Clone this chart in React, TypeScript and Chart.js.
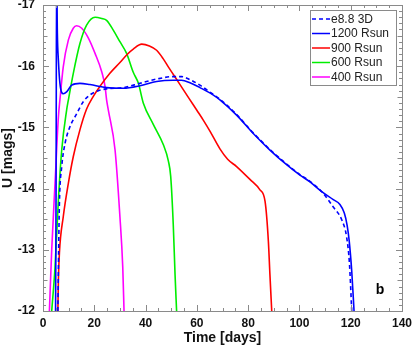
import React, { useEffect, useRef } from "react";
import { Chart, registerables } from "chart.js";

Chart.register(...registerables);

// ---- data (days, U magnitude) ----
const t3D = [5.8, 6.1, 6.4, 7.3, 8.6, 10.5, 13.1, 15.7, 18.3, 21.6, 24.8, 31.3, 37.8, 44.3, 50.8, 54, 57.3, 61.2, 66, 69, 75.5, 82, 88.5, 95, 100.2, 104.1, 109.3, 113.2, 116.5, 118.4, 119.5, 120.4];
const u3D = [-12, -13.0, -13.76, -14.36, -14.74, -15.01, -15.22, -15.42, -15.53, -15.6, -15.63, -15.65, -15.72, -15.79, -15.83, -15.83, -15.78, -15.69, -15.55, -15.46, -15.21, -14.91, -14.64, -14.4, -14.23, -14.12, -13.92, -13.7, -13.49, -13.21, -12.78, -12.0];

const t1200 = [4.9, 5.1, 5.3, 5.6, 6.0, 6.6, 7.9, 9.2, 11.2, 14.4, 18.3, 24.8, 31.3, 37.8, 44.3, 50.8, 54, 57.3, 61.2, 66, 69, 75.5, 82, 88.5, 95, 100.2, 104.1, 108.7, 113.2, 115.8, 117.5, 118.6, 119.4, 120.4, 121.3];
const u1200 = [-12, -14, -17.6, -16.54, -16.1, -15.72, -15.55, -15.58, -15.69, -15.72, -15.7, -15.65, -15.64, -15.68, -15.75, -15.77, -15.77, -15.73, -15.65, -15.54, -15.45, -15.2, -14.9, -14.63, -14.39, -14.22, -14.11, -13.95, -13.82, -13.74, -13.6, -13.4, -13.15, -12.65, -12.0];

const t900 = [5.8, 6.0, 6.4, 7.9, 9.9, 11.8, 14.4, 17.0, 19.5, 22.2, 26, 30, 33, 35.2, 38.5, 41.5, 44.3, 46.9, 49, 52.8, 57, 60, 62.5, 65.1, 69, 72, 75.5, 80.7, 84.6, 86.6, 87.9, 88.5, 89.2];
const u900 = [-12, -12.5, -12.95, -13.54, -14.09, -14.52, -14.96, -15.3, -15.5, -15.67, -15.88, -16.06, -16.2, -16.28, -16.36, -16.33, -16.26, -16.12, -15.98, -15.74, -15.47, -15.28, -15.12, -14.94, -14.65, -14.48, -14.36, -14.15, -13.98, -13.79, -13.13, -12.59, -12.0];

const t600 = [3.4, 4.7, 6.0, 7.3, 9.2, 9.9, 11.8, 14.4, 17.0, 20.3, 22.9, 24.8, 27.4, 30, 32.6, 35.2, 37.2, 39.1, 43, 46.9, 48.9, 49.8, 50.8, 51.5, 52.1];
const u600 = [-12, -12.72, -13.81, -14.63, -15.28, -15.45, -15.88, -16.37, -16.67, -16.8, -16.78, -16.75, -16.59, -16.4, -16.21, -15.9, -15.72, -15.4, -15.05, -14.72, -14.45, -14.2, -13.41, -12.59, -12.0];

const t400 = [2.5, 3.4, 4.7, 6.0, 6.6, 7.9, 9.9, 11.8, 13.1, 15.1, 17.7, 20.3, 22.9, 24.2, 24.8, 25.5, 28.1, 30, 31.1, 31.6];
const u400 = [-12, -13.0, -14.09, -15.17, -15.45, -15.99, -16.43, -16.62, -16.66, -16.62, -16.46, -16.21, -15.91, -15.67, -15.45, -15.28, -14.63, -13.54, -12.72, -12.0];

const labels = ["e8.8 3D", "1200 Rsun", "900 Rsun", "600 Rsun", "400 Rsun"];
const xTicks = [0, 20, 40, 60, 80, 100, 120, 140];
const yTicks = [-17, -16, -15, -14, -13, -12];

const FONT = "'Liberation Sans', Arial, Helvetica, sans-serif";

const series = [
  { label: labels[0], t: t3D, u: u3D, color: "#0000ff", dash: [4, 3] },
  { label: labels[1], t: t1200, u: u1200, color: "#0000ff", dash: [] as number[] },
  { label: labels[2], t: t900, u: u900, color: "#ff0000", dash: [] as number[] },
  { label: labels[3], t: t600, u: u600, color: "#00ee00", dash: [] as number[] },
  { label: labels[4], t: t400, u: u400, color: "#ff00ff", dash: [] as number[] },
];

const framePlugin = {
  id: "frameTicks",
  afterDatasetsDraw(chart: any) {
    const ctx = chart.ctx;
    const { left, right, top, bottom } = chart.chartArea;
    const xs = chart.scales.x;
    const ys = chart.scales.y;
    ctx.save();
    ctx.strokeStyle = "#8a8a8a";
    ctx.lineWidth = 1;
    ctx.beginPath();
    for (let v = 0; v <= 140; v += 5) {
      const px = Math.round(xs.getPixelForValue(v)) + 0.5;
      const len = v % 20 === 0 ? 6 : 3;
      ctx.moveTo(px, bottom);
      ctx.lineTo(px, bottom - len);
      ctx.moveTo(px, top);
      ctx.lineTo(px, top + len);
    }
    for (let i = 0; i <= 50; i++) {
      const v = -17 + i * 0.1;
      const py = Math.round(ys.getPixelForValue(v)) + 0.5;
      const len = i % 10 === 0 ? 6 : i % 5 === 0 ? 4.5 : 3;
      ctx.moveTo(left, py);
      ctx.lineTo(left + len, py);
      ctx.moveTo(right, py);
      ctx.lineTo(right - len, py);
    }
    ctx.stroke();
    ctx.strokeRect(Math.round(left) + 0.5, Math.round(top) + 0.5, Math.round(right - left), Math.round(bottom - top));
    ctx.restore();
  },
  afterDraw(chart: any) {
    const ctx = chart.ctx;
    ctx.save();
    const bx = 310.5, by = 10.5, bw = 86, bh = 75;
    ctx.fillStyle = "#ffffff";
    ctx.fillRect(bx, by, bw, bh);
    ctx.strokeStyle = "#8a8a8a";
    ctx.lineWidth = 1;
    ctx.strokeRect(bx, by, bw, bh);
    ctx.font = "12px " + FONT;
    ctx.textBaseline = "middle";
    ctx.textAlign = "left";
    series.forEach((s, i) => {
      const y = 19 + i * 14.5;
      ctx.strokeStyle = s.color;
      ctx.lineWidth = 1.5;
      ctx.setLineDash(s.dash);
      ctx.beginPath();
      ctx.moveTo(312, y);
      ctx.lineTo(330, y);
      ctx.stroke();
      ctx.setLineDash([]);
      ctx.fillStyle = "#222222";
      ctx.fillText(s.label, 331, y + 0.5);
    });
    ctx.font = "bold 14px " + FONT;
    ctx.fillStyle = "#000000";
    ctx.textAlign = "center";
    ctx.fillText("b", 380, 290);
    ctx.restore();
  },
};

export default function App() {
  const ref = useRef<HTMLCanvasElement | null>(null);
  useEffect(() => {
    if (!ref.current) return;
    Chart.defaults.font.family = FONT;
    const chart = new Chart(ref.current, {
      type: "scatter",
      data: {
        datasets: series.map((s) => ({
          label: s.label,
          data: s.t.map((x, i) => ({ x, y: s.u[i] })),
          showLine: true,
          borderColor: s.color,
          backgroundColor: s.color,
          borderWidth: 1.6,
          borderDash: s.dash,
          pointRadius: 0,
          pointHoverRadius: 0,
          cubicInterpolationMode: "monotone" as const,
          fill: false,
        })),
      },
      options: {
        animation: false,
        responsive: false,
        events: [],
        layout: { padding: { left: 0, right: 13, top: 5, bottom: 0 }, autoPadding: false } as any,
        plugins: { legend: { display: false }, tooltip: { enabled: false } },
        scales: {
          x: {
            type: "linear",
            min: 0,
            max: 140,
            afterBuildTicks: (s: any) => { s.ticks = xTicks.map((v) => ({ value: v })); },
            grid: { display: false, drawTicks: false },
            border: { display: false },
            ticks: { color: "#111111", font: { size: 12, weight: "bold" }, padding: 5, maxRotation: 0 },
            title: { display: true, text: "Time [days]", color: "#111111", font: { size: 14, weight: "bold" }, padding: { top: 0, bottom: 2 } },
            afterFit: (s: any) => { s.height = 38; s.paddingLeft = 0; s.paddingRight = 0; },
          },
          y: {
            type: "linear",
            min: -17,
            max: -12,
            reverse: true,
            afterBuildTicks: (s: any) => { s.ticks = yTicks.map((v) => ({ value: v })); },
            grid: { display: false, drawTicks: false },
            border: { display: false },
            ticks: { color: "#111111", font: { size: 12, weight: "bold" }, padding: 8 },
            title: { display: true, text: "U [mags]", color: "#111111", font: { size: 14, weight: "bold" }, padding: { top: 0, bottom: 0 } },
            afterFit: (s: any) => { s.width = 43; s.paddingTop = 0; s.paddingBottom = 0; },
          },
        },
      } as any,
      plugins: [framePlugin],
    });
    return () => chart.destroy();
  }, []);
  return (
    <div style={{ position: "fixed", left: 0, top: 0, width: 415, height: 349, background: "#fff" }}>
      <canvas ref={ref} width={415} height={349} style={{ display: "block" }} />
    </div>
  );
}
